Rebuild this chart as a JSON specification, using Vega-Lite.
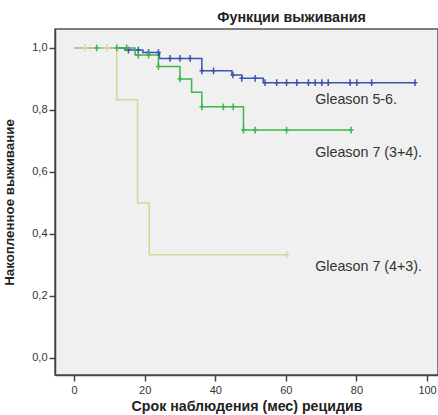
{
  "$schema": "https://vega.github.io/schema/vega-lite/v6.json",
  "width": 383,
  "height": 346,
  "autosize": {"type": "none"},
  "padding": {"left": 55, "top": 29, "right": 0, "bottom": 40},
  "background": "white",
  "title": {"text": "Функции выживания", "anchor": "middle", "dx": 45, "offset": 4, "fontSize": 14.3, "fontWeight": "bold", "font": "Liberation Sans", "color": "#222"},
  "config": {
    "view": {"fill": "#f0f0f0", "stroke": "#555", "strokeWidth": 1.5},
    "axis": {"grid": false, "labelFont": "Liberation Sans", "labelFontSize": 11, "labelColor": "#333", "titleFont": "Liberation Sans", "titleFontWeight": "bold", "titleColor": "#222", "domainColor": "#444", "domainWidth": 1.5, "tickColor": "#444", "tickWidth": 1.5, "tickSize": 6}
  },
  "datasets": {
    "curves": [
      {"group": "Gleason 5-6", "t": 0, "s": 1},
      {"group": "Gleason 5-6", "t": 14.4, "s": 0.993},
      {"group": "Gleason 5-6", "t": 19.5, "s": 0.985},
      {"group": "Gleason 5-6", "t": 24.2, "s": 0.966},
      {"group": "Gleason 5-6", "t": 36.2, "s": 0.926},
      {"group": "Gleason 5-6", "t": 44.7, "s": 0.913},
      {"group": "Gleason 5-6", "t": 47.5, "s": 0.902},
      {"group": "Gleason 5-6", "t": 53.6, "s": 0.888},
      {"group": "Gleason 5-6", "t": 96.6, "s": 0.888},
      {"group": "Gleason 7 (3+4)", "t": 0, "s": 1},
      {"group": "Gleason 7 (3+4)", "t": 17.3, "s": 0.977},
      {"group": "Gleason 7 (3+4)", "t": 23.9, "s": 0.94},
      {"group": "Gleason 7 (3+4)", "t": 30.0, "s": 0.9},
      {"group": "Gleason 7 (3+4)", "t": 33.3, "s": 0.857},
      {"group": "Gleason 7 (3+4)", "t": 36.2, "s": 0.81},
      {"group": "Gleason 7 (3+4)", "t": 48.0, "s": 0.735},
      {"group": "Gleason 7 (3+4)", "t": 78.5, "s": 0.735},
      {"group": "Gleason 7 (4+3)", "t": 0, "s": 1},
      {"group": "Gleason 7 (4+3)", "t": 12.1, "s": 0.833},
      {"group": "Gleason 7 (4+3)", "t": 18.0, "s": 0.5},
      {"group": "Gleason 7 (4+3)", "t": 21.3, "s": 0.333},
      {"group": "Gleason 7 (4+3)", "t": 60.2, "s": 0.333}
    ],
    "censors": [
      {"group": "Gleason 5-6", "t": 15.4, "s": 0.993},
      {"group": "Gleason 5-6", "t": 18.2, "s": 0.993},
      {"group": "Gleason 5-6", "t": 21.1, "s": 0.985},
      {"group": "Gleason 5-6", "t": 23.9, "s": 0.985},
      {"group": "Gleason 5-6", "t": 27.2, "s": 0.966},
      {"group": "Gleason 5-6", "t": 30.0, "s": 0.966},
      {"group": "Gleason 5-6", "t": 32.9, "s": 0.966},
      {"group": "Gleason 5-6", "t": 36.2, "s": 0.926},
      {"group": "Gleason 5-6", "t": 39.5, "s": 0.926},
      {"group": "Gleason 5-6", "t": 45.0, "s": 0.913},
      {"group": "Gleason 5-6", "t": 47.5, "s": 0.902},
      {"group": "Gleason 5-6", "t": 51.3, "s": 0.902},
      {"group": "Gleason 5-6", "t": 54.1, "s": 0.888},
      {"group": "Gleason 5-6", "t": 57.4, "s": 0.888},
      {"group": "Gleason 5-6", "t": 60.2, "s": 0.888},
      {"group": "Gleason 5-6", "t": 63.1, "s": 0.888},
      {"group": "Gleason 5-6", "t": 66.4, "s": 0.888},
      {"group": "Gleason 5-6", "t": 68.3, "s": 0.888},
      {"group": "Gleason 5-6", "t": 70.2, "s": 0.888},
      {"group": "Gleason 5-6", "t": 72.0, "s": 0.888},
      {"group": "Gleason 5-6", "t": 78.2, "s": 0.888},
      {"group": "Gleason 5-6", "t": 80.1, "s": 0.888},
      {"group": "Gleason 5-6", "t": 84.3, "s": 0.888},
      {"group": "Gleason 5-6", "t": 96.6, "s": 0.888},
      {"group": "Gleason 7 (3+4)", "t": 6.4, "s": 1},
      {"group": "Gleason 7 (3+4)", "t": 12.1, "s": 1},
      {"group": "Gleason 7 (3+4)", "t": 14.9, "s": 1},
      {"group": "Gleason 7 (3+4)", "t": 18.2, "s": 0.977},
      {"group": "Gleason 7 (3+4)", "t": 21.1, "s": 0.977},
      {"group": "Gleason 7 (3+4)", "t": 23.9, "s": 0.94},
      {"group": "Gleason 7 (3+4)", "t": 30.0, "s": 0.9},
      {"group": "Gleason 7 (3+4)", "t": 36.2, "s": 0.81},
      {"group": "Gleason 7 (3+4)", "t": 42.3, "s": 0.81},
      {"group": "Gleason 7 (3+4)", "t": 45.1, "s": 0.81},
      {"group": "Gleason 7 (3+4)", "t": 48.0, "s": 0.735},
      {"group": "Gleason 7 (3+4)", "t": 51.3, "s": 0.735},
      {"group": "Gleason 7 (3+4)", "t": 60.2, "s": 0.735},
      {"group": "Gleason 7 (3+4)", "t": 78.5, "s": 0.735},
      {"group": "Gleason 7 (4+3)", "t": 3.1, "s": 1},
      {"group": "Gleason 7 (4+3)", "t": 9.3, "s": 1},
      {"group": "Gleason 7 (4+3)", "t": 60.2, "s": 0.333}
    ],
    "labels": [
      {"label": "Gleason 5-6.", "t": 68.3, "s": 0.832},
      {"label": "Gleason 7 (3+4).", "t": 68.3, "s": 0.661},
      {"label": "Gleason 7 (4+3).", "t": 68.3, "s": 0.294}
    ]
  },
  "layer": [
    {
      "data": {"name": "curves"},
      "mark": {"type": "line", "interpolate": "step-after", "strokeWidth": 1.5},
      "encoding": {
        "x": {"field": "t", "type": "quantitative", "scale": {"domain": [-5.4, 103.1], "nice": false, "zero": false},
          "axis": {"values": [0, 20, 40, 60, 80, 100], "title": "Срок наблюдения (мес) рецидив", "titleFontSize": 14.2, "titlePadding": 4, "labelPadding": 3}},
        "y": {"field": "s", "type": "quantitative", "scale": {"domain": [-0.055, 1.061], "nice": false, "zero": false},
          "axis": {"values": [0, 0.2, 0.4, 0.6, 0.8, 1.0], "labelExpr": "replace(format(datum.value, '.1f'), '.', ',')", "title": "Накопленное выживание", "titleFontSize": 13.3, "titleX": -39, "labelPadding": 2}},
        "color": {"field": "group", "type": "nominal", "legend": null,
          "scale": {"domain": ["Gleason 5-6", "Gleason 7 (3+4)", "Gleason 7 (4+3)"], "range": ["#3a55b0", "#3cb54a", "#d8d59c"]}}
      }
    },
    {
      "data": {"name": "censors"},
      "mark": {"type": "point", "shape": "M0,-1L0,1M-0.7,0L0.7,0", "filled": false, "size": 45, "strokeWidth": 1.5, "opacity": 1},
      "encoding": {
        "x": {"field": "t", "type": "quantitative"},
        "y": {"field": "s", "type": "quantitative"},
        "color": {"field": "group", "type": "nominal", "legend": null}
      }
    },
    {
      "data": {"name": "labels"},
      "mark": {"type": "text", "align": "left", "baseline": "middle", "font": "Liberation Sans", "fontSize": 14.3, "color": "#333"},
      "encoding": {
        "x": {"field": "t", "type": "quantitative"},
        "y": {"field": "s", "type": "quantitative"},
        "text": {"field": "label"}
      }
    }
  ]
}
